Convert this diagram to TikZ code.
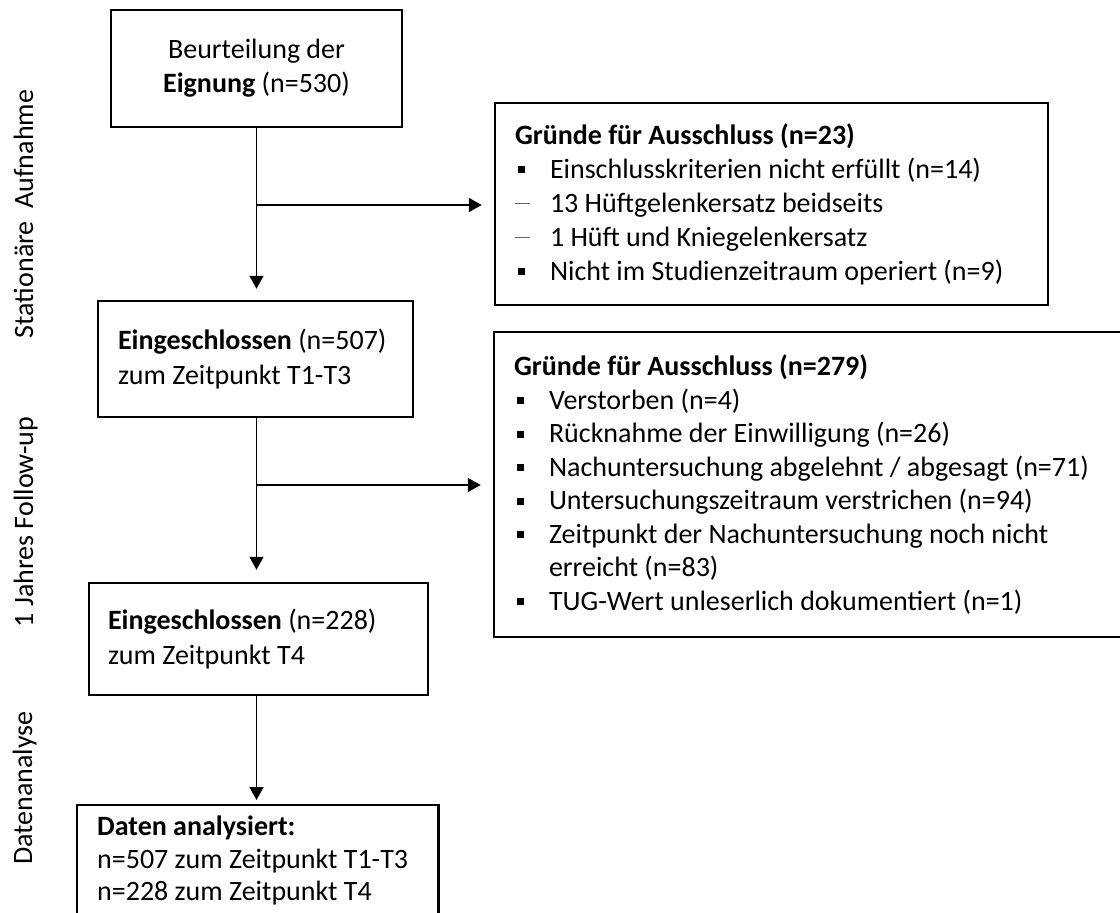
\documentclass[tikz,border=0pt]{standalone}
\usepackage{fontspec}
\setmainfont{Carlito}
\usetikzlibrary{arrows.meta}
\newcommand{\sqbul}{\makebox[35pt][l]{\hspace{3pt}\rule[5pt]{7pt}{7pt}}}
\newcommand{\dashbul}{\makebox[35pt][l]{\textcolor{black!60}{\rule[8pt]{15pt}{1.2pt}}}}
\newcommand{\indentline}{\hspace*{35pt}}
\newcommand{\txtfont}{\fontsize{28}{34}\selectfont\spaceskip=0.226em plus 0.05em minus 0.03em\relax}
\newcommand{\txtfontb}{\fontsize{28}{33.5}\selectfont\spaceskip=0.226em plus 0.05em minus 0.03em\relax}
\begin{document}
\begin{tikzpicture}[x=1pt,y=-1pt,
  txt/.style={font=\txtfont},
  box/.style={txt, draw=black, line width=2.5pt, inner ysep=0pt, align=flush left},
  conn/.style={line width=1.5pt, -{Triangle[length=13pt,width=14pt]}},
  side/.style={txt, rotate=90, anchor=base}]
\useasboundingbox (0,0) rectangle (1120,913);
\fill[white] (0,0) rectangle (1120,913);

\node[box, align=flush center, minimum width=291pt, minimum height=117pt] (b1) at (256.5,68.5)
  {Beurteilung der\\\textbf{Eignung} (n=530)};

\node[box, inner xsep=20pt, text width=513pt, minimum height=202pt] (b2) at (771.5,204)
  {\textbf{Gründe für Ausschluss (n=23)}\\
   \sqbul Einschlusskriterien nicht erfüllt (n=14)\\
   \dashbul 13 Hüftgelenkersatz beidseits\\
   \dashbul 1 Hüft und Kniegelenkersatz\\
   \sqbul Nicht im Studienzeitraum operiert (n=9)};

\node[box, inner xsep=20pt, text width=275pt, minimum height=116pt] (b3) at (255.5,359)
  {\textbf{Eingeschlossen} (n=507)\\[1pt]zum Zeitpunkt T1-T3};

\node[box, inner xsep=20pt, text width=588pt, minimum height=305pt, font=\txtfontb] (b4) at (808,484.5)
  {\textbf{Gründe für Ausschluss (n=279)}\\
   \sqbul Verstorben (n=4)\\
   \sqbul Rücknahme der Einwilligung (n=26)\\
   \sqbul Nachuntersuchung abgelehnt / abgesagt (n=71)\\
   \sqbul Untersuchungszeitraum verstrichen (n=94)\\
   \sqbul Zeitpunkt der Nachuntersuchung noch nicht\\
   \indentline erreicht (n=83)\\
   \sqbul TUG-Wert unleserlich dokumentiert (n=1)};

\node[box, inner xsep=19pt, text width=301pt, minimum height=112pt] (b5) at (258.5,639)
  {\textbf{Eingeschlossen} (n=228)\\[1pt]zum Zeitpunkt T4};

\node[txt, align=flush left, anchor=north west, inner xsep=20pt, inner ysep=11pt, text width=321pt] (b6) at (77,805)
  {\textbf{Daten analysiert:}\\[-1pt]n=507 zum Zeitpunkt T1-T3\\[-2pt]n=228 zum Zeitpunkt T4};
\draw[line width=2.5pt] ([yshift=-40pt]b6.south west) -- (b6.north west) -- (b6.north east) -- ([yshift=-40pt]b6.south east);

\coordinate (j1) at (256.5,205);
\coordinate (j2) at (256.5,485);
\draw[conn, shorten >=11pt] (b1.south) -- (b1.south |- b3.north);
\draw[conn, shorten >=12pt] (j1) -- (j1 -| b2.west);
\draw[conn, shorten >=12pt] (b1.south |- b3.south) -- (b1.south |- b5.north);
\draw[conn, shorten >=12pt] (j2) -- (j2 -| b4.west);
\draw[conn, shorten >=5pt] (b1.south |- b5.south) -- (b1.south |- b6.north);

\node[side] (s1) at (33,214) {Stationäre\ \ Aufnahme};
\node[side] (s2) at (33,522) {1 Jahres Follow-up};
\node[side] (s3) at (32,788) {Datenanalyse};
\end{tikzpicture}
\end{document}
